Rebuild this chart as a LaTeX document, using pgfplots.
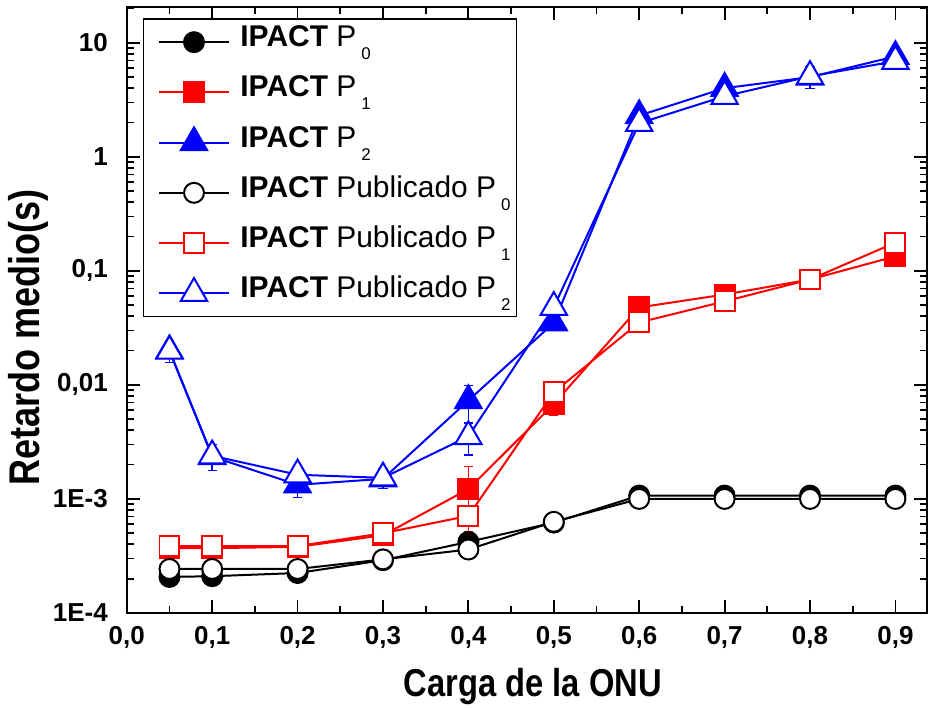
\documentclass[border=0pt]{standalone}
\usepackage{fontspec}
\setmainfont{Liberation Sans}
\newfontfamily\narrowfont{Liberation Sans}[FakeStretch=0.84]
\usepackage{pgfplots}
\usepackage{pgfplotstable}
\pgfplotsset{compat=1.18}

\definecolor{pred}{RGB}{255,0,0}
\definecolor{pblue}{RGB}{0,0,255}

% lowered subscript used in the legend entries
\newcommand\sub[1]{\,\raisebox{-6.5pt}{\fontsize{8.5}{10}\selectfont #1}}

% columns: load, mean delay (s), error
\pgfplotstableread{
x y ey
0.05 2.07e-4 0
0.1  2.10e-4 0
0.2  2.24e-4 0
0.3  2.90e-4 0
0.4  4.20e-4 0
0.5  6.20e-4 0
0.6  1.07e-3 0
0.7  1.07e-3 0
0.8  1.07e-3 0
0.9  1.07e-3 0
}\ipactA
\pgfplotstableread{
x y ey
0.05 3.70e-4 0
0.1  3.70e-4 0
0.2  3.80e-4 0
0.3  4.80e-4 0
0.4  1.22e-3 0.7e-3
0.5  6.80e-3 1.4e-3
0.6  0.0478  0
0.7  0.062   0
0.8  0.084   0
0.9  0.134   0
}\ipactB
\pgfplotstableread{
x y ey
0.05 0.020   0
0.1  2.35e-3 0
0.2  1.33e-3 0.3e-3
0.3  1.50e-3 0
0.4  7.30e-3 2.6e-3
0.5  0.035   0
0.6  2.30    0
0.7  4.00    0
0.8  5.00    0
0.9  7.60    0
}\ipactC
\pgfplotstableread{
x y ey
0.05 2.43e-4 0
0.1  2.43e-4 0
0.2  2.43e-4 0
0.3  2.95e-4 0
0.4  3.60e-4 0
0.5  6.30e-4 0
0.6  1.00e-3 0
0.7  1.00e-3 0
0.8  1.00e-3 0
0.9  1.00e-3 0
}\pubA
\pgfplotstableread{
x y ey
0.05 3.85e-4 0
0.1  3.85e-4 0
0.2  3.86e-4 0
0.3  5.00e-4 0
0.4  7.10e-4 0
0.5  8.60e-3 0
0.6  0.0353  0
0.7  0.054   0
0.8  0.084   0
0.9  0.177   0
}\pubB
\pgfplotstableread{
x y ey
0.05 0.0198  0.004
0.1  2.39e-3 0.62e-3
0.2  1.63e-3 0
0.3  1.53e-3 0.3e-3
0.4  3.53e-3 1.1e-3
0.5  0.048   0
0.6  1.97    0
0.7  3.40    0
0.8  5.08    1.1
0.9  6.90    0
}\pubC

\begin{document}
\begin{tikzpicture}
\begin{axis}[
  scale only axis,
  width=400.8pt, height=303.5pt,
  xmin=0, xmax=0.937,
  ymode=log, ymin=1e-4, ymax=20.6,
  xtick={0,0.1,0.2,0.3,0.4,0.5,0.6,0.7,0.8,0.9},
  xticklabels={{0,0},{0,1},{0,2},{0,3},{0,4},{0,5},{0,6},{0,7},{0,8},{0,9}},
  minor xtick={0.05,0.15,0.25,0.35,0.45,0.55,0.65,0.75,0.85},
  ytick={1e-4,1e-3,0.01,0.1,1,10},
  yticklabels={1E-4,1E-3,{0,01},{0,1},1,10},
  minor ytick={2e-4,3e-4,4e-4,5e-4,6e-4,7e-4,8e-4,9e-4,
               2e-3,3e-3,4e-3,5e-3,6e-3,7e-3,8e-3,9e-3,
               0.02,0.03,0.04,0.05,0.06,0.07,0.08,0.09,
               0.2,0.3,0.4,0.5,0.6,0.7,0.8,0.9,
               2,3,4,5,6,7,8,9,20},
  tick align=inside,
  major tick length=6.5pt, minor tick length=3.5pt,
  every tick/.style={black, line width=0.9pt},
  axis line style={line width=1.2pt},
  ticklabel style={font=\bfseries\fontsize{13}{15}\selectfont},
  xticklabel style={yshift=-3pt},
  yticklabel style={xshift=-6pt},
  xlabel={Carga de la ONU},
  ylabel={Retardo medio(s)},
  xlabel style={font=\narrowfont\bfseries\fontsize{19.5}{22}\selectfont,
    at={(rel axis cs:0.5075,0)}, anchor=center, yshift=-37pt},
  ylabel style={font=\narrowfont\bfseries\fontsize{21.5}{24}\selectfont,
    at={(rel axis cs:0,0.455)}, anchor=center, yshift=49.5pt},
  legend cell align=left,
  legend image code/.code={%
    \path (0pt,0pt);
    \draw[mark repeat=2,mark phase=2] plot coordinates {(4pt,0pt)(21.75pt,0pt)(39.5pt,0pt)};},
  legend style={at={(rel axis cs:0.02,0.982)}, anchor=north west,
    draw=black, line width=0.8pt, fill=white,
    font=\fontsize{15}{18}\selectfont,
    inner xsep=3pt, inner ysep=3pt, row sep=7.65pt, column sep=5pt,
    nodes={text height=11pt, text depth=6.5pt, inner ysep=0pt, inner xsep=0pt}},
  error bars/y dir=both, error bars/y explicit,
  error bars/error mark options={line width=0.7pt, mark size=2.3pt, rotate=90},
  error bars/error bar style={line width=0.7pt},
]
\addplot[black, line width=1pt, mark=*, mark size=5pt,
  mark options={fill=black, line width=1pt}]
  table[x=x, y=y, y error=ey]{\ipactA};
\addlegendentry{\textbf{IPACT} P\sub{0}}
\addplot[pred, line width=1pt, mark=square*, mark size=5pt,
  mark options={fill=pred, line width=1pt}]
  table[x=x, y=y, y error=ey]{\ipactB};
\addlegendentry{\textbf{IPACT} P\sub{1}}
\addplot[pblue, line width=1pt, mark=triangle*, mark size=7.6pt,
  mark options={fill=pblue, line width=1pt}]
  table[x=x, y=y, y error=ey]{\ipactC};
\addlegendentry{\textbf{IPACT} P\sub{2}}
\addplot[black, line width=1pt, mark=*, mark size=5pt,
  mark options={fill=white, line width=1pt}]
  table[x=x, y=y, y error=ey]{\pubA};
\addlegendentry{\textbf{IPACT} Publicado P\sub{0}}
\addplot[pred, line width=1pt, mark=square*, mark size=5pt,
  mark options={fill=white, line width=1pt}]
  table[x=x, y=y, y error=ey]{\pubB};
\addlegendentry{\textbf{IPACT} Publicado P\sub{1}}
\addplot[pblue, line width=1pt, mark=triangle*, mark size=7.6pt,
  mark options={fill=white, line width=1pt}]
  table[x=x, y=y, y error=ey]{\pubC};
\addlegendentry{\textbf{IPACT} Publicado P\sub{2}}
\end{axis}
\pgfresetboundingbox
\path ([shift={(-63.5pt,-47.5pt)}]current axis.south west)
  rectangle ([shift={(2pt,3.5pt)}]current axis.north east);
\end{tikzpicture}
\end{document}
